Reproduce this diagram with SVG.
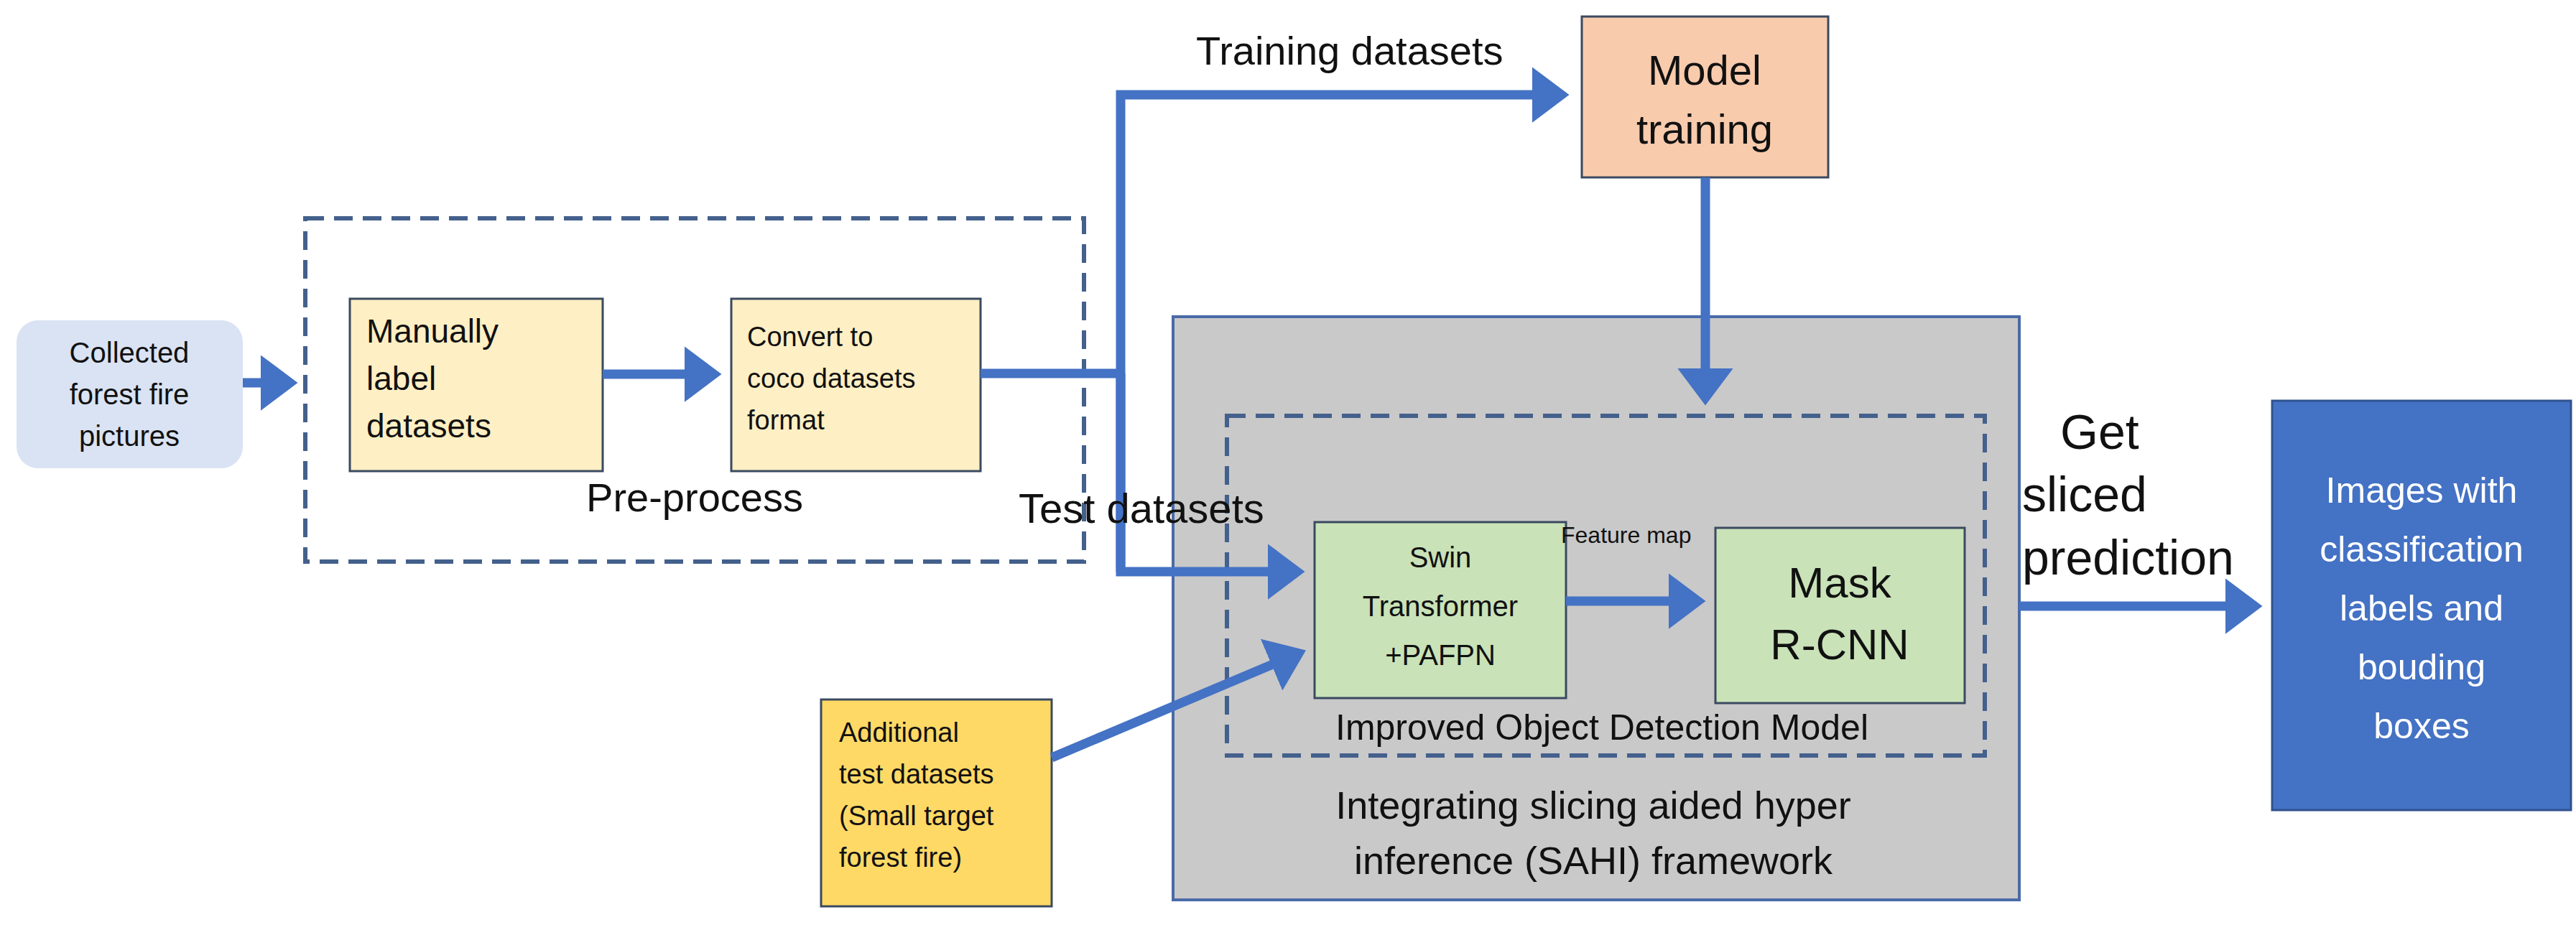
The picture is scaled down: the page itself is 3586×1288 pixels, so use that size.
<svg xmlns="http://www.w3.org/2000/svg" width="3586" height="1288" viewBox="0 0 3586 1288">
<style>
text{font-family:"Liberation Sans",Arial,sans-serif;fill:#111}
.c{stroke:#4472c4;stroke-width:13;fill:none}
.box{stroke:#3a4a60;stroke-width:3}
.dash{fill:none;stroke:#44608c;stroke-width:6;stroke-dasharray:26 14}
</style>
<defs>
<marker id="ah" markerWidth="5" markerHeight="6" refX="2.5" refY="3" orient="auto" markerUnits="strokeWidth"><path d="M0,0L4,3L0,6Z" fill="#4472c4"/></marker>
</defs>
<rect width="3586" height="1288" fill="#fff"/>
<g id="sahi"><rect x="1633" y="441" width="1178" height="812" fill="#c9c9c9" stroke="#4a6aa8" stroke-width="4"/>
<text x="2218" y="1140" font-size="54" text-anchor="middle">Integrating slicing aided hyper</text>
<text x="2218" y="1217" font-size="54" text-anchor="middle">inference (SAHI) framework</text></g>
<g id="improved"><rect x="1708" y="579" width="1055" height="473" class="dash"/>
<text x="2230" y="1030" font-size="50" text-anchor="middle">Improved Object Detection Model</text></g>
<g id="preprocess"><rect x="425" y="304" width="1084" height="478" class="dash"/>
<text x="967" y="712" font-size="56" text-anchor="middle">Pre-process</text></g>
<g id="collected"><rect x="23" y="446" width="315" height="206" rx="30" fill="#dae3f3"/>
<text font-size="40" text-anchor="middle" fill="#222"><tspan x="180" y="505">Collected</tspan><tspan x="180" y="563">forest fire</tspan><tspan x="180" y="621">pictures</tspan></text></g>
<g id="manual"><rect x="487" y="416" width="352" height="240" fill="#ffefc4" class="box"/>
<text font-size="46"><tspan x="510" y="477">Manually</tspan><tspan x="510" y="543">label</tspan><tspan x="510" y="609">datasets</tspan></text></g>
<g id="convert"><rect x="1018" y="416" width="347" height="240" fill="#ffefc4" class="box"/>
<text font-size="38"><tspan x="1040" y="482">Convert to</tspan><tspan x="1040" y="540">coco datasets</tspan><tspan x="1040" y="598">format</tspan></text></g>
<g id="model"><rect x="2202" y="23" width="343" height="224" fill="#f8cbad" class="box"/>
<text font-size="58" text-anchor="middle"><tspan x="2373" y="118">Model</tspan><tspan x="2373" y="200">training</tspan></text></g>
<g id="swin"><rect x="1830" y="727" width="350" height="245" fill="#c9e2b8" class="box"/>
<text font-size="40" text-anchor="middle"><tspan x="2005" y="790">Swin</tspan><tspan x="2005" y="858">Transformer</tspan><tspan x="2005" y="926">+PAFPN</tspan></text></g>
<g id="mask"><rect x="2388" y="735" width="347" height="244" fill="#c9e2b8" class="box"/>
<text font-size="60" text-anchor="middle"><tspan x="2561" y="832">Mask</tspan><tspan x="2561" y="918">R-CNN</tspan></text></g>
<g id="additional"><rect x="1143" y="974" width="321" height="288" fill="#ffd966" class="box"/>
<text font-size="38"><tspan x="1168" y="1033">Additional</tspan><tspan x="1168" y="1091">test datasets</tspan><tspan x="1168" y="1149">(Small target</tspan><tspan x="1168" y="1207">forest fire)</tspan></text></g>
<g id="images"><rect x="3163" y="558" width="416" height="570" fill="#4472c4" stroke="#2f528f" stroke-width="3"/>
<text font-size="50" text-anchor="middle" style="fill:#fff"><tspan x="3371" y="700">Images with</tspan><tspan x="3371" y="782">classification</tspan><tspan x="3371" y="864">labels and</tspan><tspan x="3371" y="946">bouding</tspan><tspan x="3371" y="1028">boxes</tspan></text></g>
<g id="connectors">
<line x1="338" y1="533" x2="395" y2="533" class="c" marker-end="url(#ah)"/>
<line x1="839" y1="521" x2="985" y2="521" class="c" marker-end="url(#ah)"/>
<polyline points="1365,520 1560,520" class="c"/>
<polyline points="1560,796 1560,132 2165,132" class="c" marker-end="url(#ah)"/>
<polyline points="1560,520 1560,796 1797,796" class="c" marker-end="url(#ah)"/>
<line x1="2374" y1="247" x2="2374" y2="545" class="c" marker-end="url(#ah)"/>
<line x1="2180" y1="837" x2="2355" y2="837" class="c" marker-end="url(#ah)"/>
<line x1="1464" y1="1055" x2="1800" y2="913" class="c" marker-end="url(#ah)"/>
<line x1="2811" y1="844" x2="3130" y2="844" class="c" marker-end="url(#ah)"/>
</g>
<g id="labels">
<text x="1665" y="90" font-size="56">Training datasets</text>
<text x="1418" y="728" font-size="58">Test datasets</text>
<text x="2173" y="756" font-size="32">Feature map</text>
<text font-size="68"><tspan x="2868" y="625">Get</tspan><tspan x="2815" y="712">sliced</tspan><tspan x="2815" y="800">prediction</tspan></text>
</g>
</svg>
